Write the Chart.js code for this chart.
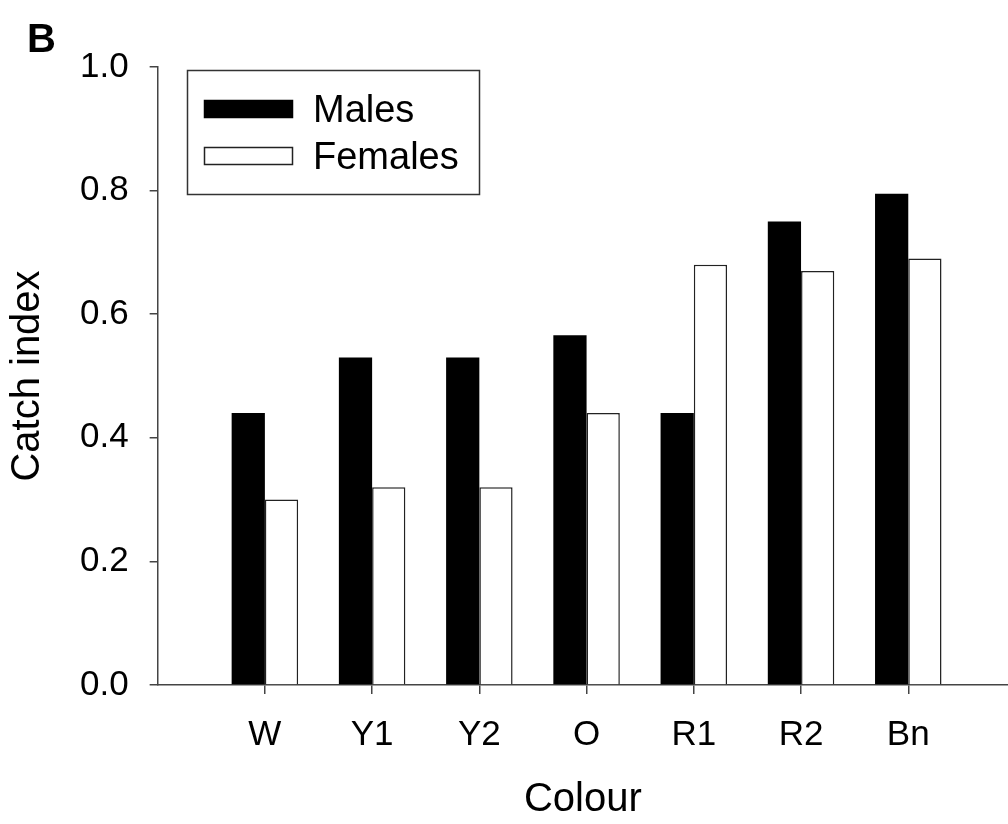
<!DOCTYPE html>
<html>
<head>
<meta charset="utf-8">
<script src="https://cdn.jsdelivr.net/npm/chart.js@4.4.1/dist/chart.umd.min.js"></script>
<style>
    html, body { margin: 0; padding: 0; background: #fff; }
    #wrap { width: 1008px; height: 824px; }
</style>
</head>
<body>
<div id="wrap"><canvas id="chart"></canvas></div>
<script>
const categories = ['W', 'Y1', 'Y2', 'O', 'R1', 'R2', 'Bn'];
const males = [0.44, 0.53, 0.53, 0.566, 0.44, 0.75, 0.795];
const females = [0.30, 0.32, 0.32, 0.44, 0.68, 0.67, 0.69];
const yTicks = [0.0, 0.2, 0.4, 0.6, 0.8, 1.0];

const FONT = '"Liberation Sans", Arial, sans-serif';
const AXIS = '#444';

// bars sit at x = 1..n on a linear index axis so the axis can run past the last group
const toPoints = arr => arr.map((v, i) => ({ x: i + 1, y: v }));

// boxed legend inside the plot + panel letter
const boxLegend = {
    id: 'boxLegend',
    afterDraw(chart) {
        const ctx = chart.ctx;
        ctx.save();
        ctx.strokeStyle = '#333';
        ctx.lineWidth = 1.5;
        ctx.strokeRect(187.5, 70.5, 292, 124);

        ctx.font = '38px ' + FONT;
        ctx.textBaseline = 'alphabetic';
        chart.data.datasets.forEach((ds, i) => {
            const y = 100 + i * 47;
            ctx.fillStyle = ds.backgroundColor;
            ctx.fillRect(204, y, 89, 18);
            ctx.strokeStyle = ds.borderColor;
            ctx.lineWidth = 1.5;
            ctx.strokeRect(204.5, y + 0.5, 88, 17);
            ctx.fillStyle = '#000';
            ctx.fillText(ds.label, 313, y + 22);
        });

        ctx.font = 'bold 40px ' + FONT;
        ctx.fillText('B', 27, 52);
        ctx.restore();
    }
};

new Chart(document.getElementById('chart'), {
    type: 'bar',
    data: {
        datasets: [
            {
                label: 'Males',
                data: toPoints(males),
                backgroundColor: '#000',
                borderColor: '#000',
                borderWidth: 0
            },
            {
                label: 'Females',
                data: toPoints(females),
                backgroundColor: '#fff',
                borderColor: '#222',
                borderWidth: 1.5
            }
        ]
    },
    options: {
        responsive: true,
        maintainAspectRatio: false,
        animation: false,
        categoryPercentage: 0.62,
        barPercentage: 1.0,
        layout: {
            padding: { top: 67, left: 0, right: 0, bottom: 0 }
        },
        plugins: {
            legend: { display: false },
            tooltip: { enabled: false }
        },
        scales: {
            x: {
                type: 'linear',
                min: 0,
                max: 7.93,
                offset: false,
                afterBuildTicks: scale => {
                    scale.ticks = categories.map((c, i) => ({ value: i + 1 }));
                },
                ticks: {
                    autoSkip: false,
                    maxRotation: 0,
                    padding: 20,
                    color: '#000',
                    font: { family: FONT, size: 35 },
                    callback: v => categories[v - 1] || ''
                },
                grid: {
                    drawOnChartArea: false,
                    offset: false,
                    tickLength: 9,
                    tickColor: AXIS,
                    lineWidth: 1.5
                },
                border: { color: AXIS, width: 1.5 },
                title: {
                    display: true,
                    text: 'Colour',
                    color: '#000',
                    font: { family: FONT, size: 40 },
                    padding: { top: 0, bottom: 0 }
                }
            },
            y: {
                min: 0,
                max: 1,
                afterBuildTicks: scale => {
                    scale.ticks = yTicks.map(v => ({ value: v }));
                },
                ticks: {
                    padding: 21,
                    color: '#000',
                    font: { family: FONT, size: 35 },
                    callback: v => v.toFixed(1)
                },
                grid: {
                    drawOnChartArea: false,
                    tickLength: 8,
                    tickColor: AXIS,
                    lineWidth: 1.5
                },
                border: { color: AXIS, width: 1.5 },
                title: {
                    display: true,
                    text: 'Catch index',
                    color: '#000',
                    font: { family: FONT, size: 40 },
                    padding: { top: 4, bottom: 7 }
                }
            }
        }
    },
    plugins: [boxLegend]
});
</script>
</body>
</html>
